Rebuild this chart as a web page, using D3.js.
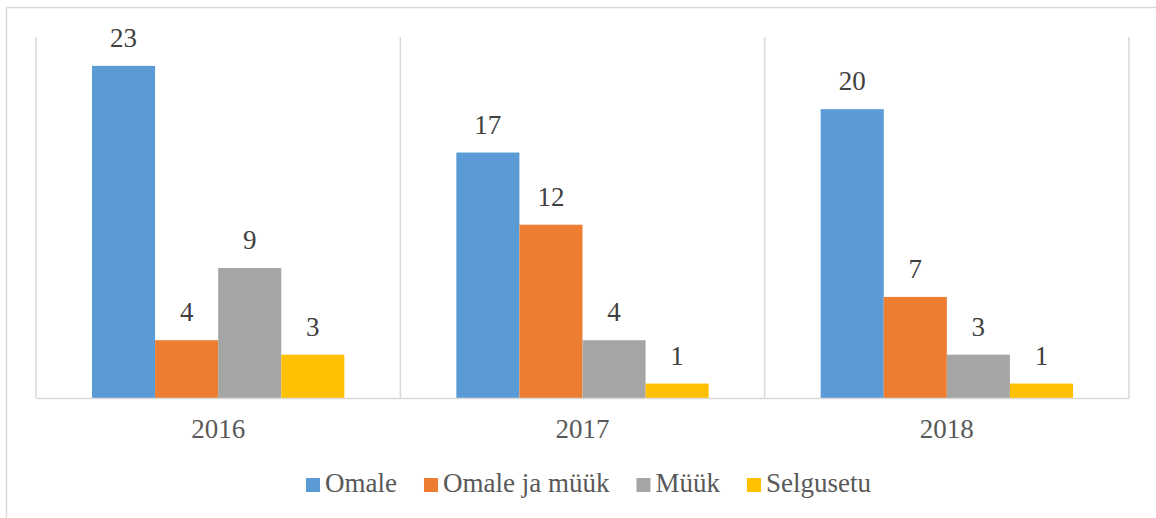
<!DOCTYPE html>
<html lang="et">
<head>
  <meta charset="UTF-8">
  <script src="https://cdnjs.cloudflare.com/ajax/libs/d3/7.8.5/d3.min.js"></script>
  <style>
    body { margin: 0; background: #fff; }
    text { font-family: "Liberation Serif", "Times New Roman", serif; }
  </style>
</head>
<body>
  <script>
    const years = ["2016", "2017", "2018"];
    const seriesNames = ["Omale", "Omale ja müük", "Müük", "Selgusetu"];
    const omale = [23, 17, 20];
    const omaleJaMuuk = [4, 12, 7];
    const muuk = [9, 4, 3];
    const selgusetu = [3, 1, 1];
    const colors = ["#5b9bd5", "#ed7d31", "#a5a5a5", "#ffc000"];

    const seriesValues = [omale, omaleJaMuuk, muuk, selgusetu];

    const w = 1156;
    const h = 518;
    const plotLeft = 36, plotRight = 1129, plotTop = 37, plotBottom = 398;
    const fs = 27;

    const svg = d3.select("body")
      .append("svg")
      .attr("width", w)
      .attr("height", h);

    // outer chart border
    svg.append("rect")
      .attr("x", 6.5)
      .attr("y", 7.5)
      .attr("width", w + 10)
      .attr("height", h + 10)
      .attr("fill", "none")
      .attr("stroke", "#d9d9d9")
      .attr("stroke-width", 1.5);

    const x0 = d3.scaleBand()
      .domain(years)
      .range([plotLeft, plotRight])
      .paddingInner(0)
      .paddingOuter(0);

    const x1 = d3.scaleBand()
      .domain(seriesNames)
      .range([56, x0.bandwidth() - 56]);

    const y = d3.scaleLinear()
      .domain([0, 25])
      .range([plotBottom, plotTop]);

    // vertical category separators
    const seps = years.map(d => x0(d)).concat([plotRight]);
    svg.selectAll("line.sep")
      .data(seps)
      .enter()
      .append("line")
      .attr("class", "sep")
      .attr("x1", d => d)
      .attr("x2", d => d)
      .attr("y1", plotTop)
      .attr("y2", plotBottom)
      .attr("stroke", "#d9d9d9")
      .attr("stroke-width", 1.5);

    const groups = svg.selectAll("g.year")
      .data(years)
      .enter()
      .append("g")
      .attr("class", "year")
      .attr("transform", d => "translate(" + x0(d) + ",0)");

    groups.selectAll("rect")
      .data((d, i) => seriesNames.map((s, j) => ({ s: s, v: seriesValues[j][i], c: colors[j] })))
      .enter()
      .append("rect")
      .attr("x", d => x1(d.s))
      .attr("y", d => y(d.v))
      .attr("width", x1.bandwidth())
      .attr("height", d => plotBottom - y(d.v))
      .attr("fill", d => d.c);

    groups.selectAll("text.lbl")
      .data((d, i) => seriesNames.map((s, j) => ({ s: s, v: seriesValues[j][i] })))
      .enter()
      .append("text")
      .attr("class", "lbl")
      .attr("x", d => x1(d.s) + x1.bandwidth() / 2)
      .attr("y", d => y(d.v) - 19)
      .attr("text-anchor", "middle")
      .attr("font-size", fs)
      .attr("fill", "#404040")
      .text(d => d.v);

    // x axis
    const xAxis = svg.append("g")
      .attr("transform", "translate(0," + plotBottom + ")")
      .call(d3.axisBottom(x0).tickSize(0).tickPadding(21));
    xAxis.select(".domain").attr("stroke", "#d9d9d9").attr("stroke-width", 1.5);
    xAxis.selectAll("text")
      .attr("font-size", fs)
      .attr("fill", "#595959")
      .style("font-family", "Liberation Serif, serif");

    // legend, laid out left to right from the measured text widths
    const legend = svg.append("g").attr("class", "legend");
    let lx = 306;
    seriesNames.forEach((name, i) => {
      const item = legend.append("g").attr("transform", "translate(" + lx + ",478)");
      item.append("rect")
        .attr("width", 14)
        .attr("height", 14)
        .attr("fill", colors[i]);
      const t = item.append("text")
        .attr("x", 19)
        .attr("y", 14)
        .attr("font-size", fs)
        .attr("fill", "#595959")
        .text(name);
      lx += 19 + t.node().getComputedTextLength() + 27;
    });
  </script>
</body>
</html>
